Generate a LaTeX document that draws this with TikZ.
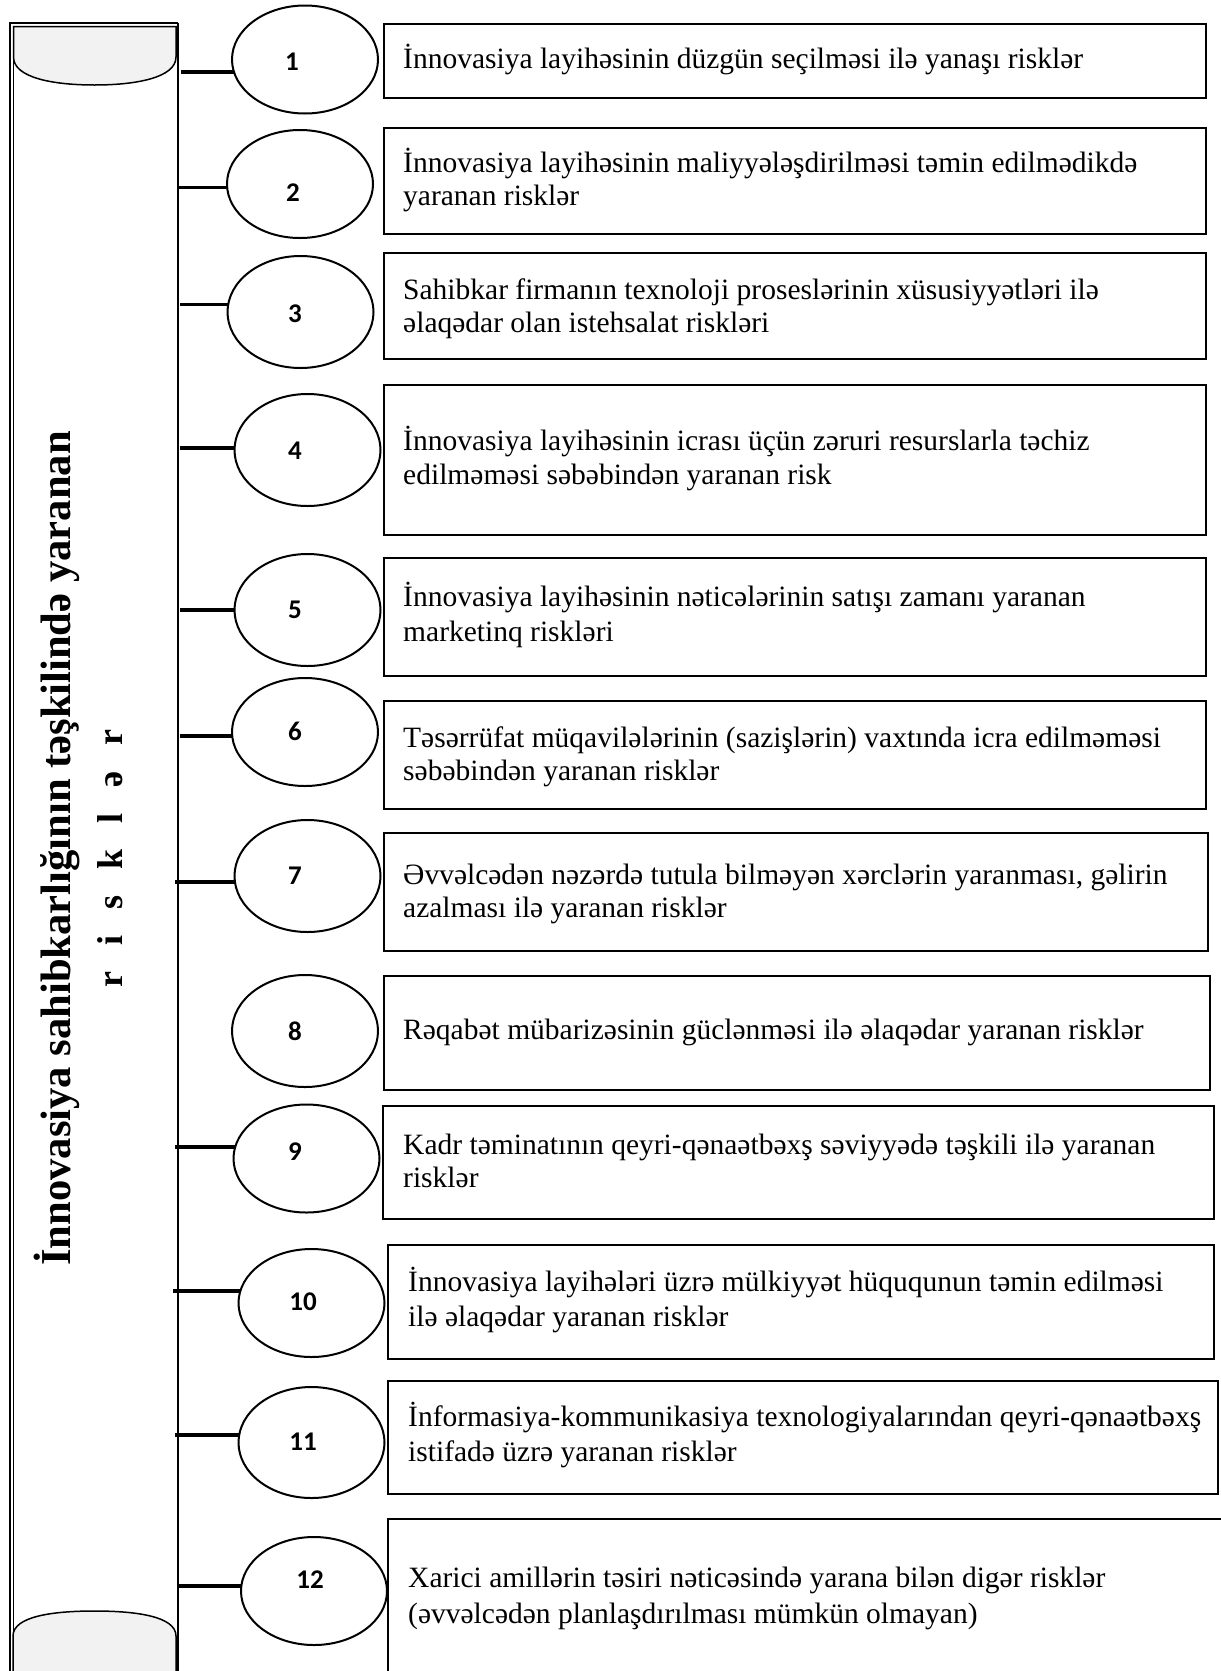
\documentclass[tikz,border=0pt]{standalone}
\usepackage{fontspec}
\setmainfont{Liberation Serif}
\newfontfamily\numfont{Carlito}
\usetikzlibrary{shapes.geometric}
\pgfdeclarelayer{bg}
\pgfsetlayers{bg,main}
\definecolor{capgray}{HTML}{F2F2F2}
\begin{document}
\begin{tikzpicture}[x=1pt,y=-1pt,
  ell/.style={draw, ellipse, line width=2pt, fill=white, inner sep=0pt, minimum width=146pt, minimum height=108pt},
  boxn/.style={draw, line width=2.2pt, anchor=north west, inner sep=0pt},
  conn/.style={line width=3.5pt},
  txt/.style={anchor=base west, inner sep=0pt, font=\fontsize{29.5}{34}\selectfont},
  num/.style={inner sep=0pt, font=\numfont\bfseries\fontsize{27}{32}\selectfont},
  vtxt/.style={rotate=90, anchor=base, inner sep=0pt}]
\useasboundingbox (0,0) rectangle (1221,1671);
\clip (0,0) rectangle (1221,1671);
% scroll
\draw[line width=2pt] (10,1700) -- (10,23) -- (178,23);
\draw[line width=1.3pt] (178,23) -- (178,1700);
\draw[line width=1.3pt] (13.5,1700) -- (13.5,26.5) -- (176,26.5);
\draw[fill=capgray, line width=1.5pt] (13.5,26.5) -- (176,26.5) -- (176,57) .. controls (176,78) and (135,85) .. (94.5,85) .. controls (54,85) and (13.5,78) .. (13.5,57) -- cycle;
\draw[fill=capgray, line width=1.5pt] (13,1700) -- (13,1636) .. controls (13,1616) and (54,1611) .. (94.5,1611) .. controls (135,1611) and (176,1616) .. (176,1636) -- (176,1700);
\node[vtxt, font=\bfseries\fontsize{42.6}{48}\selectfont] (vt1) at (70,848.5) {İnnovasiya sahibkarlığının təşkilində yaranan};
\node[vtxt, font=\bfseries\fontsize{36}{40}\selectfont] (vt2) at (122,858.5) {\spaceskip=26pt r i s k l ə r};
% ellipses
\node[ell] (e1) at (305,59.5) {};
\node[ell] (e2) at (300,184) {};
\node[ell, minimum height=112pt] (e3) at (300.5,312) {};
\node[ell, minimum height=112pt] (e4) at (307.5,450) {};
\node[ell, minimum height=112pt] (e5) at (307.5,610) {};
\node[ell] (e6) at (305,732) {};
\node[ell, minimum height=112pt] (e7) at (307.5,876) {};
\node[ell, minimum height=112pt] (e8) at (305,1031) {};
\node[ell] (e9) at (306.5,1158.5) {};
\node[ell] (e10) at (311.5,1303) {};
\node[ell, minimum height=111pt] (e11) at (311.5,1442.5) {};
\node[ell] (e12) at (314,1591) {};
% numbers
\node[num] (n1) at (292,62) {1};
\node[num] (n2) at (293,193) {2};
\node[num] (n3) at (295,314) {3};
\node[num] (n4) at (295,451) {4};
\node[num] (n5) at (295,610) {5};
\node[num] (n6) at (295,731) {6};
\node[num] (n7) at (295,876) {7};
\node[num] (n8) at (295,1031) {8};
\node[num] (n9) at (295,1152) {9};
\node[num] (n10) at (303,1302) {10};
\node[num] (n11) at (303,1442) {11};
\node[num] (n12) at (310,1580) {12};
% connectors
\coordinate (c1) at (181,72);
\coordinate (c2) at (178,187.5);
\coordinate (c3) at (180,304.5);
\coordinate (c4) at (180,448);
\coordinate (c5) at (180,610);
\coordinate (c6) at (180,736);
\coordinate (c7) at (175,882);
\coordinate (c9) at (175,1147);
\coordinate (c10) at (173,1291);
\coordinate (c11) at (175,1435);
\coordinate (c12) at (178,1586);
\begin{pgfonlayer}{bg}
\foreach \i in {1,2,3,4,5,6,7,9,10,11,12} {
  \draw[conn] (c\i) -- (c\i -| e\i.center);
}
\end{pgfonlayer}
% boxes
\node[boxn, minimum width=822pt, minimum height=74pt] (b1) at (383,23) {};
\node[boxn, minimum width=822pt, minimum height=106pt] (b2) at (383,127) {};
\node[boxn, minimum width=822pt, minimum height=106pt] (b3) at (383,252) {};
\node[boxn, minimum width=822pt, minimum height=150pt] (b4) at (383,384) {};
\node[boxn, minimum width=822pt, minimum height=118pt] (b5) at (383,557) {};
\node[boxn, minimum width=822pt, minimum height=108pt] (b6) at (383,700) {};
\node[boxn, minimum width=824pt, minimum height=118pt] (b7) at (383,832) {};
\node[boxn, minimum width=826pt, minimum height=114pt] (b8) at (383,975) {};
\node[boxn, minimum width=831pt, minimum height=113pt] (b9) at (382,1105) {};
\node[boxn, minimum width=826pt, minimum height=114pt] (b10) at (387,1244) {};
\node[boxn, minimum width=830pt, minimum height=113pt] (b11) at (387,1380) {};
\node[boxn, minimum width=850pt, minimum height=200pt] (b12) at (387,1518) {};
% texts
\node[txt] (t1) at (403,68) {İnnovasiya layihəsinin düzgün seçilməsi ilə yanaşı risklər};
\node[txt] (t2a) at (403,172) {İnnovasiya layihəsinin maliyyələşdirilməsi təmin edilmədikdə};
\node[txt] (t2b) at (403,205) {yaranan risklər};
\node[txt] (t3a) at (403,299) {Sahibkar firmanın texnoloji proseslərinin xüsusiyyətləri ilə};
\node[txt] (t3b) at (403,332) {əlaqədar olan istehsalat riskləri};
\node[txt] (t4a) at (403,450) {İnnovasiya layihəsinin icrası üçün zəruri resurslarla təchiz};
\node[txt] (t4b) at (403,484) {edilməməsi səbəbindən yaranan risk};
\node[txt] (t5a) at (403,606) {İnnovasiya layihəsinin nəticələrinin satışı zamanı yaranan};
\node[txt] (t5b) at (403,641) {marketinq riskləri};
\node[txt] (t6a) at (403,747) {Təsərrüfat müqavilələrinin (sazişlərin) vaxtında icra edilməməsi};
\node[txt] (t6b) at (403,780) {səbəbindən yaranan risklər};
\node[txt] (t7a) at (403,884) {Əvvəlcədən nəzərdə tutula bilməyən xərclərin yaranması, gəlirin};
\node[txt] (t7b) at (403,917) {azalması ilə yaranan risklər};
\node[txt] (t8) at (403,1039) {Rəqabət mübarizəsinin güclənməsi ilə əlaqədar yaranan risklər};
\node[txt] (t9a) at (403,1154) {Kadr təminatının qeyri-qənaətbəxş səviyyədə təşkili ilə yaranan};
\node[txt] (t9b) at (403,1187) {risklər};
\node[txt] (t10a) at (408,1291) {İnnovasiya layihələri üzrə mülkiyyət hüququnun təmin edilməsi};
\node[txt] (t10b) at (408,1326) {ilə əlaqədar yaranan risklər};
\node[txt] (t11a) at (408,1426) {İnformasiya-kommunikasiya texnologiyalarından qeyri-qənaətbəxş};
\node[txt] (t11b) at (408,1461) {istifadə üzrə yaranan risklər};
\node[txt] (t12a) at (408,1587) {Xarici amillərin təsiri nəticəsində yarana bilən digər risklər};
\node[txt] (t12b) at (408,1623) {(əvvəlcədən planlaşdırılması mümkün olmayan)};
\end{tikzpicture}
\end{document}
